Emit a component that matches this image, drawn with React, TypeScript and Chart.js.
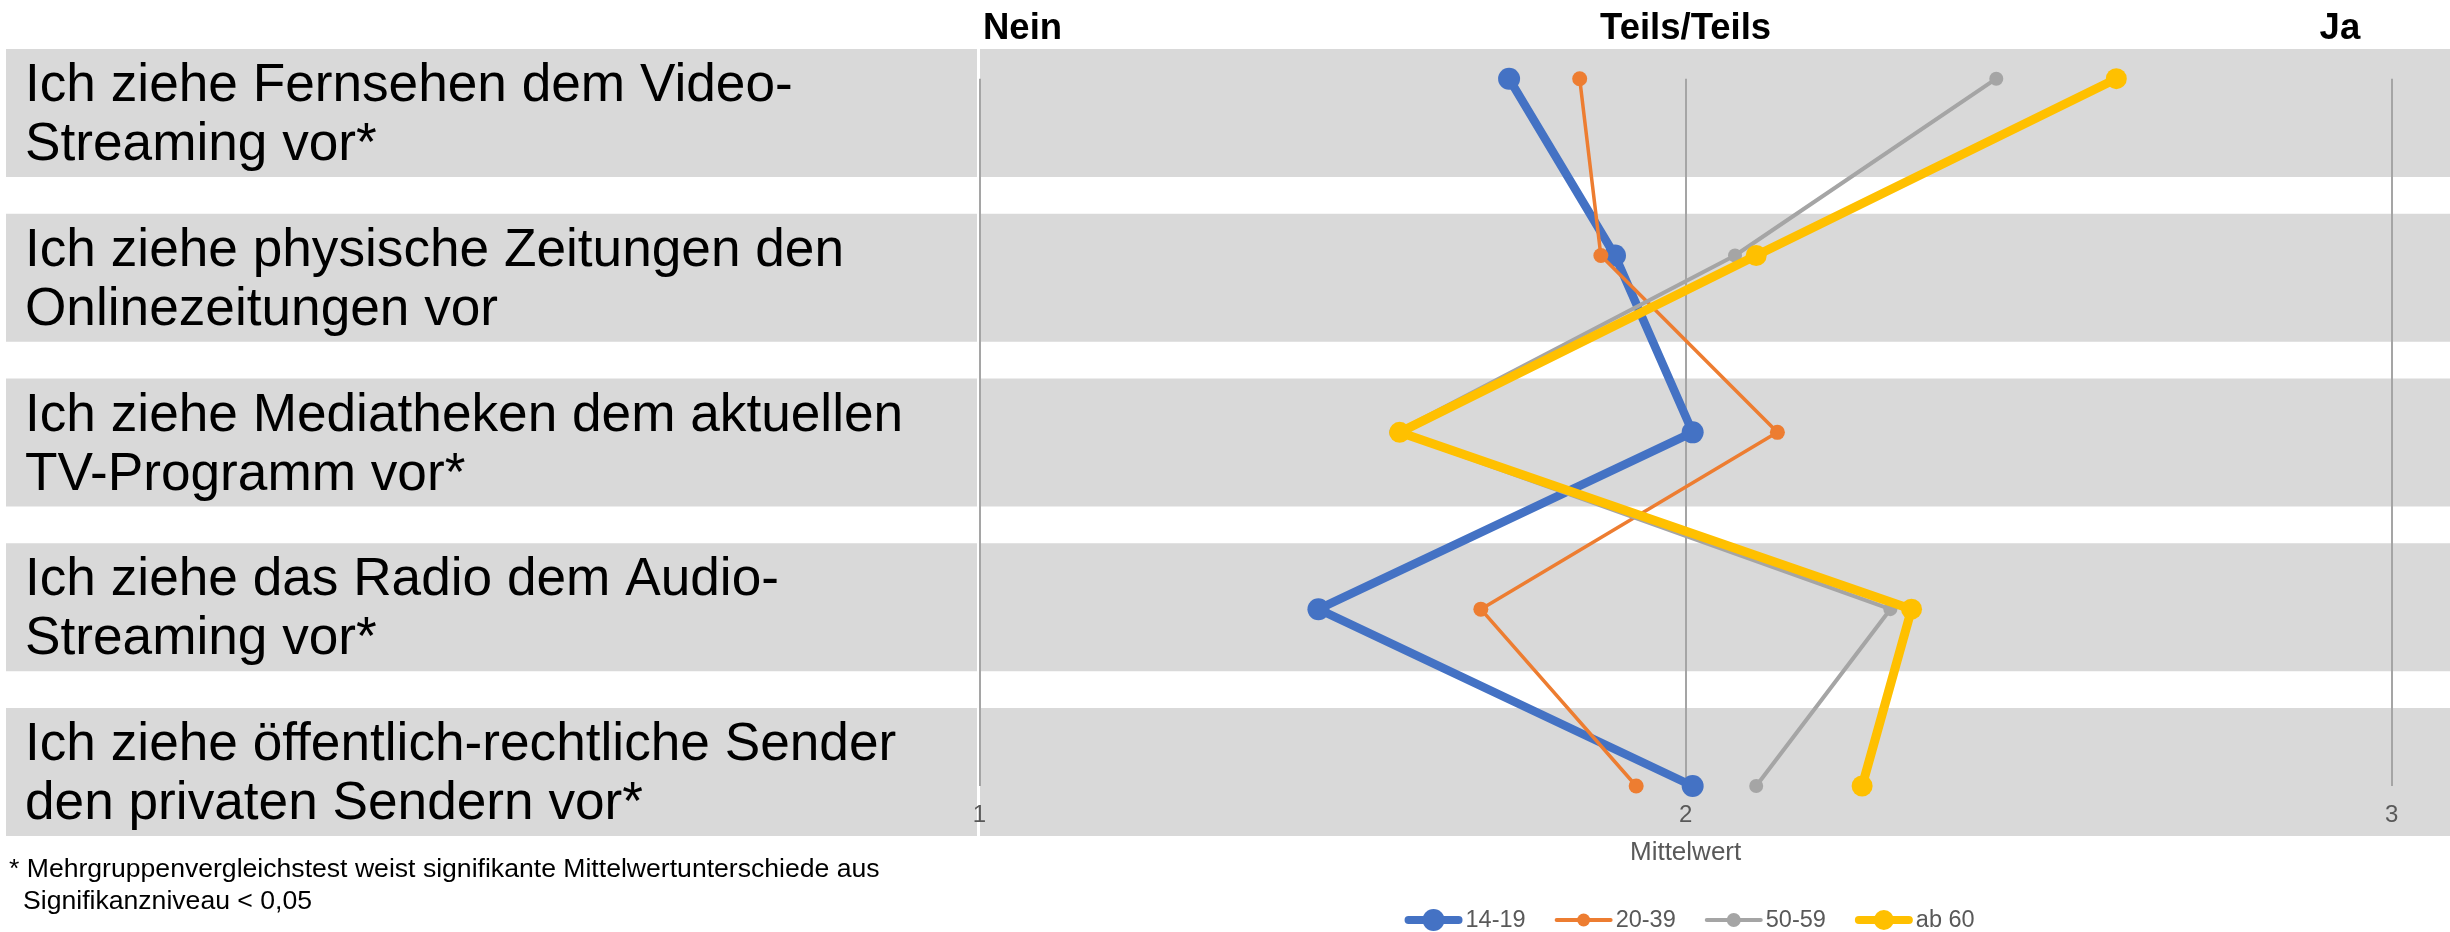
import { useEffect, useRef } from "react";
import { Chart, registerables } from "chart.js";

Chart.register(...registerables);

// ---------- data ----------
const categories: string[][] = [
  ["Ich ziehe Fernsehen dem Video-", "Streaming vor*"],
  ["Ich ziehe physische Zeitungen den", "Onlinezeitungen vor"],
  ["Ich ziehe Mediatheken dem aktuellen", "TV-Programm vor*"],
  ["Ich ziehe das Radio dem Audio-", "Streaming vor*"],
  ["Ich ziehe öffentlich-rechtliche Sender", "den privaten Sendern vor*"],
];
const seriesLabels = ["14-19", "20-39", "50-59", "ab 60"];
const values14to19 = [1.75, 1.9, 2.01, 1.48, 2.01];
const values20to39 = [1.85, 1.88, 2.13, 1.71, 1.93];
const values50to59 = [2.44, 2.07, 1.59, 2.29, 2.1];
const valuesAb60 = [2.61, 2.1, 1.595, 2.32, 2.25];
const xTickValues = [1, 2, 3];
const scaleHeaders = ["Nein", "Teils/Teils", "Ja"];
const axisTitle = "Mittelwert";
const footnoteLines = [
  "* Mehrgruppenvergleichstest weist signifikante Mittelwertunterschiede aus",
  "Signifikanzniveau < 0,05",
];

// ---------- styles ----------
const FONT = '"Liberation Sans", Arial, sans-serif';
const COLORS = ["#4472C4", "#ED7D31", "#A5A5A5", "#FFC000"];
const LINE_WIDTHS = [8.5, 3.5, 4, 9];
const POINT_RADII = [11, 7.5, 7, 10.5];
const LEGEND_LINE_WIDTHS = [8, 4, 4, 8];
const LEGEND_RADII = [11, 6.5, 7, 10];

const BAND_TOP = 49;
const BAND_H = 128;
const BAND_STEP = 164.75;
const BAND_LEFT = 6;

Chart.defaults.font.family = FONT;

const decorPlugin = {
  id: "decor",
  beforeDraw(chart: any) {
    const ctx = chart.ctx as CanvasRenderingContext2D;
    ctx.save();
    ctx.fillStyle = "#D9D9D9";
    categories.forEach((_, i) => {
      ctx.fillRect(BAND_LEFT, BAND_TOP + i * BAND_STEP, chart.width - BAND_LEFT, BAND_H);
    });
    const x1 = chart.scales.x.getPixelForValue(xTickValues[0]);
    ctx.fillStyle = "#FFFFFF";
    const lastBottom = BAND_TOP + (categories.length - 1) * BAND_STEP + BAND_H;
    ctx.fillRect(x1 - 2.5, BAND_TOP, 3, lastBottom - BAND_TOP);

    ctx.fillStyle = "#000000";
    ctx.font = `53.2px ${FONT}`;
    ctx.textBaseline = "alphabetic";
    ctx.textAlign = "left";
    categories.forEach((lines, i) => {
      lines.forEach((t, j) => {
        ctx.fillText(t, 25, BAND_TOP + i * BAND_STEP + 52 + j * 59);
      });
    });
    ctx.restore();
  },
  afterDraw(chart: any) {
    const ctx = chart.ctx as CanvasRenderingContext2D;
    const xs = chart.scales.x;
    ctx.save();
    // scale headers
    ctx.fillStyle = "#000000";
    ctx.font = `bold 36.5px ${FONT}`;
    ctx.textBaseline = "alphabetic";
    ctx.textAlign = "left";
    ctx.fillText(scaleHeaders[0], xs.getPixelForValue(xTickValues[0]) + 3.5, 39);
    ctx.textAlign = "center";
    ctx.fillText(scaleHeaders[1], xs.getPixelForValue(xTickValues[1]), 39);
    ctx.textAlign = "right";
    ctx.fillText(scaleHeaders[2], xs.getPixelForValue(xTickValues[2]) - 31.5, 39);

    // footnote
    ctx.textAlign = "left";
    ctx.font = `26.6px ${FONT}`;
    ctx.fillText(footnoteLines[0], 9, 877);
    ctx.fillText(footnoteLines[1], 23, 909);

    // legend
    ctx.font = `23.5px ${FONT}`;
    const lineLen = 58;
    const textGap = 3;
    const gap = 29;
    const ds = chart.data.datasets;
    const widths = ds.map((d: any) => lineLen + textGap + ctx.measureText(d.label).width);
    const total = widths.reduce((a: number, b: number) => a + b, 0) + gap * (ds.length - 1);
    let x = (xs.getPixelForValue(xTickValues[1]) + 4) - total / 2;
    const y = 920;
    ds.forEach((d: any, i: number) => {
      ctx.strokeStyle = COLORS[i];
      ctx.lineWidth = LEGEND_LINE_WIDTHS[i];
      ctx.lineCap = "round";
      ctx.beginPath();
      ctx.moveTo(x + LEGEND_LINE_WIDTHS[i] / 2, y);
      ctx.lineTo(x + lineLen - LEGEND_LINE_WIDTHS[i] / 2, y);
      ctx.stroke();
      ctx.fillStyle = COLORS[i];
      ctx.beginPath();
      ctx.arc(x + lineLen / 2, y, LEGEND_RADII[i], 0, Math.PI * 2);
      ctx.fill();
      ctx.fillStyle = "#595959";
      ctx.textBaseline = "middle";
      ctx.textAlign = "left";
      ctx.fillText(d.label, x + lineLen + textGap, y + 0.5);
      x += widths[i] + gap;
    });
    ctx.restore();
  },
};

export default function App() {
  const ref = useRef<HTMLCanvasElement>(null);
  useEffect(() => {
    const canvas = ref.current!;
    const series = [values14to19, values20to39, values50to59, valuesAb60];
    const chart = new Chart(canvas, {
      type: "line",
      data: {
        datasets: series.map((vals, s) => ({
          label: seriesLabels[s],
          data: vals.map((v, i) => ({ x: v, y: i })),
          borderColor: COLORS[s],
          backgroundColor: COLORS[s],
          pointBackgroundColor: COLORS[s],
          pointBorderColor: COLORS[s],
          pointBorderWidth: 0,
          borderWidth: LINE_WIDTHS[s],
          pointRadius: POINT_RADII[s],
          borderJoinStyle: "round",
          borderCapStyle: "round",
          tension: 0,
          clip: false,
          fill: false,
          order: series.length - 1 - s,
        })) as any,
      },
      options: {
        responsive: false,
        devicePixelRatio: 1,
        animation: false,
        events: [],
        layout: { padding: { left: 979.5, right: 58.3, top: 78.7, bottom: 64 } },
        plugins: { legend: { display: false }, tooltip: { enabled: false } },
        scales: {
          x: {
            type: "linear",
            min: 1,
            max: 3,
            position: "bottom",
            afterBuildTicks: (axis: any) => {
              axis.ticks = xTickValues.map((v) => ({ value: v }));
            },
            ticks: {
              padding: 15,
              color: "#595959",
              font: { size: 24 },
              callback: (v: any) => String(v),
            },
            grid: { color: "#A5A5A5", lineWidth: 2, drawTicks: false },
            border: { display: false },
            title: {
              display: true,
              text: axisTitle,
              color: "#595959",
              font: { size: 26 },
              padding: { top: 0, bottom: 0 },
            },
            afterFit: (axis: any) => {
              axis.height = 82;
              axis.paddingLeft = 0;
              axis.paddingRight = 0;
            },
          } as any,
          y: {
            type: "linear",
            min: 0,
            max: categories.length - 1,
            reverse: true,
            display: false,
          },
        },
      },
      plugins: [decorPlugin],
    });
    return () => chart.destroy();
  }, []);
  return (
    <div style={{ position: "absolute", left: 0, top: 0, width: 2450, height: 932, background: "#fff" }}>
      <canvas ref={ref} width={2450} height={932} style={{ display: "block", width: 2450, height: 932 }} />
    </div>
  );
}
